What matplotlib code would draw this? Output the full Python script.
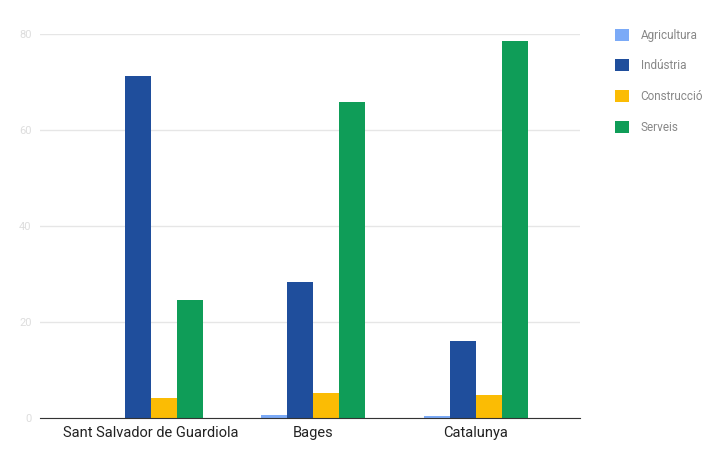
import matplotlib
matplotlib.use("Agg")
import matplotlib.pyplot as plt
import numpy as np

plt.rcParams['font.family'] = ['Roboto', 'DejaVu Sans']

categories = ["Sant Salvador de Guardiola", "Bages", "Catalunya"]
series_names = ["Agricultura", "Indústria", "Construcció", "Serveis"]
agricultura = [0.0, 0.6, 0.4]
industria = [71.2, 28.3, 16.0]
construccio = [4.2, 5.2, 4.8]
serveis = [24.6, 65.8, 78.5]
yticks = [0, 20, 40, 60, 80]
ytick_labels = ["0", "20", "40", "60", "80"]

colors = ["#7baaf7", "#1f4e9c", "#fbbc04", "#0f9d58"]
series = [agricultura, industria, construccio, serveis]

fig = plt.figure(figsize=(7.23, 4.62), dpi=100)
ax = fig.add_axes([40/723, 1 - 418/462, 540/723, 384/462])

x = np.arange(len(categories))
w = 0.16
for i, (vals, c, name) in enumerate(zip(series, colors, series_names)):
    ax.bar(x + (i - 1.5) * w, vals, width=w, color=c, label=name, zorder=3)

ax.set_xlim(-0.68, 2.64)
ax.set_ylim(0, 80)
ax.set_yticks(yticks)
ax.set_yticklabels(ytick_labels, color="#dddddd", fontsize=8)
ax.set_xticks(x)
ax.set_xticklabels(categories, fontsize=10.5, color="#222222")
ax.tick_params(axis='both', length=0, pad=6)
ax.grid(axis='y', color="#e6e6e6", linewidth=1, zorder=0)
for s in ["top", "right", "left"]:
    ax.spines[s].set_visible(False)
ax.spines["bottom"].set_color("#333333")
ax.spines["bottom"].set_zorder(4)

handles, labels = ax.get_legend_handles_labels()
leg = fig.legend(handles, labels, loc="upper left", bbox_to_anchor=(604/723, 1 - 18/462),
                 frameon=False, fontsize=8.5, labelcolor="#888888",
                 handlelength=1.2, handleheight=1.2, labelspacing=1.5, handletextpad=1.0)

fig.savefig("out.png", dpi=100, facecolor="white")
